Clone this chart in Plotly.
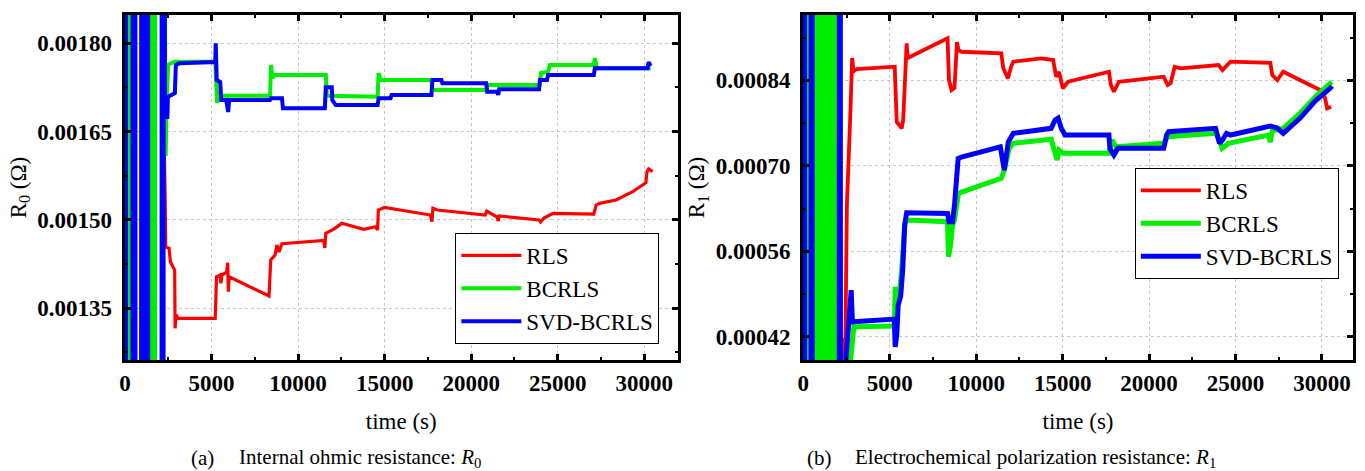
import plotly.graph_objects as go

# ---------------- (a) internal ohmic resistance R0 ----------------
r0_rls_t = [178, 207, 2319, 2354, 2549, 2624, 2768, 2872, 2895, 2952, 3085, 5214, 5289, 5502,
            5542, 5600, 5876, 5933, 5974, 6020, 8322, 8420, 8667, 8782, 8897, 9070, 11487,
            11545, 11602, 12063, 12523, 12926, 13790, 14481, 14595, 14635, 14998, 17645, 17731,
            17789, 18048, 20810, 20896, 21500, 21558, 21616, 23918, 24004, 24206, 24724, 27084,
            27216, 27411, 28367, 29328, 30093, 30151, 30249, 30479]
r0_rls_v = [-0.003, 0.005, 0.0015458, 0.0014536, 0.0014519, 0.0014291, 0.0014206, 0.0014150,
            0.0013160, 0.0013386, 0.0013330, 0.0013330, 0.0014036, 0.0014065, 0.0013924,
            0.0014065, 0.0014116, 0.0014274, 0.0013782, 0.0014036, 0.0013709, 0.0014320,
            0.0014405, 0.0014575, 0.0014456, 0.0014597, 0.0014651, 0.0014524, 0.0014773,
            0.0014846, 0.0014943, 0.0014914, 0.0014841, 0.0014886, 0.0014829, 0.0015169,
            0.0015212, 0.0015084, 0.0014970, 0.0015198, 0.0015169, 0.0015084, 0.0015152,
            0.0015050, 0.0014982, 0.0015067, 0.0014999, 0.0014965, 0.0015033, 0.0015113,
            0.0015101, 0.0015254, 0.0015283, 0.0015339, 0.0015480, 0.0015633, 0.0015814,
            0.0015865, 0.0015820]

r0_bcrls_t = [255, 305, 355, 1470, 1530, 1590, 1650, 1710, 1770, 2354, 2394, 2492, 2854, 5214,
              5254, 5329, 5387, 5559, 8379, 8437, 8523, 8667, 11602, 11660, 14595, 14652, 14767,
              17702, 17760, 20868, 20925, 23947, 24033, 24436, 24551, 27084, 27141, 27256, 30364]
r0_bcrls_v = [-0.003, 0.005, -0.003, -0.003, 0.005, -0.003, 0.005, -0.003, 0.005,
              0.0016086, 0.0016867, 0.0017637, 0.0017688, 0.0017688, 0.0017377, 0.0016986,
              0.0017156, 0.0017110, 0.0017110, 0.0017631, 0.0017411, 0.0017462, 0.0017462,
              0.0017110, 0.0017093, 0.0017496, 0.0017377, 0.0017377, 0.0017207, 0.0017207,
              0.0017292, 0.0017292, 0.0017496, 0.0017518, 0.0017631, 0.0017631, 0.0017750,
              0.0017575, 0.0017575]

r0_svd_t = [-50, 0, 120, 400, 460, 520, 580, 640, 900, 960, 1020, 1080, 1140, 1200, 1260, 1320,
            1370, 2080, 2140, 2200, 2260, 2308, 2452, 2480, 2739, 2883, 2941, 3142, 5214, 5243,
            5300, 5502, 5559, 5847, 5962, 6020, 8379, 8437, 9070, 9127, 11545, 11602, 11948,
            11976, 12177, 14595, 14652, 15343, 15400, 17702, 17760, 18278, 18336, 20868, 20925,
            21500, 21558, 21616, 23918, 23976, 24379, 24436, 27084, 27141, 30191, 30249, 30364]
r0_svd_v = [-0.003, 0.005, -0.003, -0.003, 0.005, -0.003, 0.005, -0.003, -0.003, 0.005, -0.003,
            0.005, -0.003, 0.005, -0.003, 0.005, -0.003, -0.003, 0.005, -0.003, 0.005,
            0.0016748, 0.0016748, 0.0017088, 0.0017122, 0.0017156, 0.0017631, 0.0017660,
            0.0017682, 0.0018000, 0.0017377, 0.0017343, 0.0017037, 0.0017037, 0.0016833,
            0.0017037, 0.0017037, 0.0017066, 0.0017066, 0.0016896, 0.0016896, 0.0017253,
            0.0017253, 0.0017037, 0.0016952, 0.0016952, 0.0017066, 0.0017066, 0.0017122,
            0.0017122, 0.0017377, 0.0017377, 0.0017321, 0.0017321, 0.0017178, 0.0017178,
            0.0017122, 0.0017219, 0.0017219, 0.0017377, 0.0017377, 0.0017462, 0.0017462,
            0.0017575, 0.0017575, 0.0017682, 0.0017615]

# ------------- (b) electrochemical polarization resistance R1 -------------
r1_rls_t = [1760, 1787, 1815, 2250, 2271, 2317, 2421, 2519, 2709, 2778, 2824, 2905, 3095, 5286,
            5401, 5689, 5775, 5977, 6035, 8341, 8427, 8571, 8744, 8888, 8975, 9147, 11453, 11568,
            11839, 12030, 12145, 13759, 14451, 14624, 14797, 15010, 15315, 17678, 17793, 17966,
            18254, 20848, 21079, 21252, 21482, 21828, 24018, 24249, 24422, 24710, 27015, 27130,
            27418, 27764, 29897, 30185, 30300, 30531]
r1_rls_v = [-0.003, 0.0006177, -0.003, -0.003, 0.0004179, 0.0003753, 0.0003802, 0.0006362,
            0.0007782, 0.0008405, 0.0008765, 0.0008547, 0.0008585, 0.0008623, 0.0007722,
            0.0007614, 0.0007750, 0.0009006, 0.0008765, 0.0009088, 0.0008405, 0.0008241,
            0.0008274, 0.0009027, 0.0008896, 0.0008868, 0.0008842, 0.0008597, 0.0008433,
            0.0008634, 0.0008705, 0.0008760, 0.0008733, 0.0008459, 0.0008536, 0.0008269,
            0.0008377, 0.0008541, 0.0008323, 0.0008213, 0.0008377, 0.0008459, 0.0008323,
            0.0008356, 0.0008623, 0.0008597, 0.0008651, 0.0008569, 0.0008618, 0.0008705,
            0.0008688, 0.0008487, 0.0008405, 0.0008541, 0.0008241, 0.0008110, 0.0007941,
            0.0007968]

r1_bcrls_t = [210, 270, 330, 660, 722, 784, 846, 908, 970, 1032, 1094, 1156, 1218, 1280, 1342,
              1404, 1466, 1528, 1590, 1652, 1714, 1776, 1838, 1900, 2721, 2807, 2922, 5257, 5314,
              5430, 5516, 5689, 5862, 5977, 8341, 8398, 8514, 8629, 8744, 8975, 9147, 11453,
              11626, 11914, 12145, 14335, 14566, 14681, 14797, 15027, 17678, 17851, 18081, 20848,
              21079, 23846, 24076, 24231, 24595, 26901, 27015, 27130, 27764, 28744, 29609, 30571]
r1_bcrls_v = [-0.003, 0.005, -0.003, -0.003, 0.005, -0.003, 0.005, -0.003, 0.005, -0.003, 0.005,
              -0.003, 0.005, -0.003, 0.005, -0.003, 0.005, -0.003, 0.005, -0.003, 0.005, -0.003,
              0.005, -0.003, 0.0003786, 0.0004146, 0.0004364, 0.0004375, 0.0005019, 0.0004774,
              0.0004801, 0.0005293, 0.0006030, 0.0006112, 0.0006084, 0.0005511, 0.0005702,
              0.0006030, 0.0006112, 0.0006549, 0.0006570, 0.0006795, 0.0006931, 0.0007291,
              0.0007368, 0.0007434, 0.0007204, 0.0007095, 0.0007258, 0.0007204, 0.0007204,
              0.0007422, 0.0007312, 0.0007368, 0.0007476, 0.0007532, 0.0007422, 0.0007286,
              0.0007368, 0.0007504, 0.0007389, 0.0007570, 0.0007614, 0.0007864, 0.0008126,
              0.0008377]

r1_svd_t = [-20, 40, 100, 420, 480, 540, 2050, 2110, 2170, 2432, 2605, 2767, 2836, 2922, 5257,
            5314, 5401, 5487, 5631, 5747, 5862, 5977, 8341, 8427, 8629, 8744, 8957, 9147, 11395,
            11511, 11626, 11856, 12145, 14335, 14566, 14739, 14912, 15142, 17678, 17736, 17966,
            18196, 20848, 21021, 21137, 23846, 24076, 24249, 24480, 24710, 27015, 27418, 27764,
            28744, 29609, 30473, 30588]
r1_svd_v = [-0.003, 0.005, -0.003, -0.003, 0.005, -0.003, -0.003, 0.005, -0.003, 0.0003687,
            0.0004310, 0.0004965, 0.0004441, 0.0004446, 0.0004490, 0.0004036, 0.0004228,
            0.0004719, 0.0004867, 0.0005293, 0.0006030, 0.0006231, 0.0006221, 0.0006084,
            0.0006084, 0.0006357, 0.0007122, 0.0007144, 0.0007312, 0.0007095, 0.0006931,
            0.0007389, 0.0007532, 0.0007614, 0.0007750, 0.0007782, 0.0007619, 0.0007504,
            0.0007504, 0.0007286, 0.0007176, 0.0007286, 0.0007286, 0.0007504, 0.0007558,
            0.0007614, 0.0007368, 0.0007422, 0.0007532, 0.0007504, 0.0007651, 0.0007619,
            0.0007532, 0.0007782, 0.0008061, 0.0008269, 0.0008307]

series_names = ["RLS", "BCRLS", "SVD-BCRLS"]
series_colors = ["#ff0000", "#00ee00", "#0000ff"]

x_ticks = [0, 5000, 10000, 15000, 20000, 25000, 30000]
r0_ticks = [0.00135, 0.00150, 0.00165, 0.00180]
r1_ticks = [0.00042, 0.00056, 0.00070, 0.00084]

SERIF = "Liberation Serif"
W, H = 1365, 471

fig = go.Figure()

left_data = [(r0_rls_t, r0_rls_v), (r0_bcrls_t, r0_bcrls_v), (r0_svd_t, r0_svd_v)]
right_data = [(r1_rls_t, r1_rls_v), (r1_bcrls_t, r1_bcrls_v), (r1_svd_t, r1_svd_v)]
left_widths = [3.2, 4, 4]
right_widths = [3.8, 5, 5]

for i, (t, v) in enumerate(left_data):
    fig.add_trace(go.Scatter(x=t, y=v, mode="lines", name=series_names[i],
                             line=dict(color=series_colors[i], width=left_widths[i]),
                             xaxis="x", yaxis="y", legend="legend",
                             legendgroup="a%d" % i))
for i, (t, v) in enumerate(right_data):
    fig.add_trace(go.Scatter(x=t, y=v, mode="lines", name=series_names[i],
                             line=dict(color=series_colors[i], width=right_widths[i]),
                             xaxis="x2", yaxis="y2", legend="legend2",
                             legendgroup="b%d" % i))

tick_font = dict(family=SERIF, size=23, color="black", weight="bold")
title_font = dict(family=SERIF, size=23, color="black")


def x_axis(domain, rng, anchor):
    return dict(domain=domain, range=rng, anchor=anchor,
                tickmode="array", tickvals=x_ticks, ticktext=[str(v) for v in x_ticks],
                tickfont=tick_font, ticks="inside", ticklen=6, tickwidth=3, tickcolor="black",
                minor=dict(ticks="inside", ticklen=3, tickwidth=2, dtick=2500, tick0=0,
                           tickcolor="black", showgrid=False),
                showline=True, linewidth=3, linecolor="black", mirror="allticks",
                showgrid=True, gridcolor="#c8c8c8", griddash="dot", gridwidth=1,
                zeroline=False, title=dict(text="time (s)", font=title_font, standoff=19))


def y_axis(domain, rng, anchor, ticks, step, title):
    return dict(domain=domain, range=rng, anchor=anchor,
                tickmode="array", tickvals=ticks, ticktext=["%.5f" % v for v in ticks],
                tickfont=tick_font, ticks="inside", ticklen=6, tickwidth=3, tickcolor="black",
                ticklabelstandoff=5,
                minor=dict(ticks="inside", ticklen=3, tickwidth=2, dtick=step / 2,
                           tick0=ticks[0], tickcolor="black", showgrid=False),
                showline=True, linewidth=3, linecolor="black", mirror="allticks",
                showgrid=True, gridcolor="#c8c8c8", griddash="dot", gridwidth=1,
                zeroline=False, title=dict(text=title, font=title_font, standoff=5))


y_dom = [1 - 360 / H, 1 - 15 / H]
legend_style = dict(font=dict(family=SERIF, size=23, color="black"), bgcolor="white",
                    bordercolor="black", borderwidth=1, xanchor="left", yanchor="top",
                    tracegroupgap=0, itemwidth=60)

fig.update_layout(
    width=W, height=H, margin=dict(l=0, r=0, t=0, b=0),
    paper_bgcolor="white", plot_bgcolor="white", showlegend=True,
    xaxis=x_axis([120 / W, 675.5 / W], [-23, 31947], "y"),
    yaxis=y_axis(y_dom, [0.0012622, 0.0018481], "x", r0_ticks, 0.00015,
                 "R<sub>0</sub> (Ω)"),
    xaxis2=x_axis([801 / W, 1353 / W], [-17, 31802], "y2"),
    yaxis2=y_axis(y_dom, [0.000382, 0.000947], "x2", r1_ticks, 0.00014,
                  "R<sub>1</sub> (Ω)"),
    legend=dict(x=452 / W, y=1 - 233 / H, **legend_style),
    legend2=dict(x=1134 / W, y=1 - 168 / H, **legend_style),
)

cap_font = dict(family=SERIF, size=21, color="black")
captions = [(185, "(a)"), (233, "Internal ohmic resistance: <i>R</i><sub>0</sub>"),
            (803, "(b)"), (851, "Electrochemical polarization resistance: <i>R</i><sub>1</sub>")]
for cx, txt in captions:
    fig.add_annotation(x=cx / W, y=1 - 458 / H, xref="paper", yref="paper", text=txt,
                       showarrow=False, xanchor="left", yanchor="middle", font=cap_font)

fig.write_html("out.html")
